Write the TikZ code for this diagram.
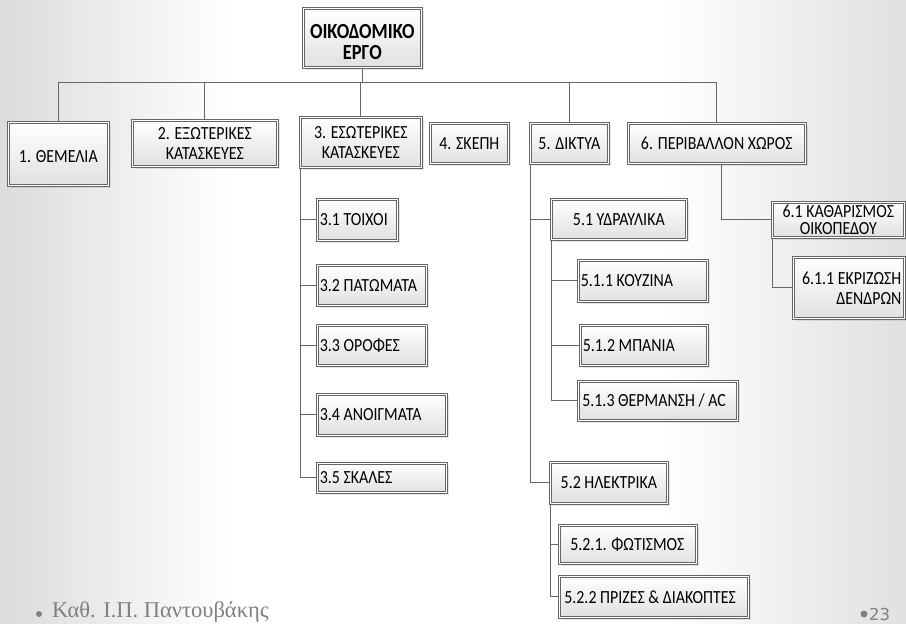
\documentclass[tikz,border=0pt]{standalone}
\usepackage{fontspec}
\setmainfont{Carlito}[FakeStretch=0.86]
\newfontfamily\footfont{Liberation Serif}
\newfontfamily\pagefont{DejaVu Sans}
\usetikzlibrary{calc,shadows}

\pgfdeclarelayer{back}
\pgfdeclarelayer{wires}
\pgfsetlayers{back,wires,main}

\begin{document}
\begin{tikzpicture}[x=1pt,y=-1pt,
  box/.style={draw=black!60, line width=0.7pt, double=white, double distance=1.2pt,
    top color=white, bottom color=black!12,
    drop shadow={shadow xshift=2.5pt, shadow yshift=-2.5pt, opacity=0.2},
    font=\fontsize{18.5}{20}\selectfont, inner sep=0pt, anchor=north west, align=center},
  lbox/.style={box, align=flush left, inner xsep=2.5pt},
  rbox/.style={box, align=flush right, inner xsep=3pt},
  wire/.style={draw=black!60, line width=0.8pt},
  ]
\useasboundingbox (0,0) rectangle (906,624);

% slide background
\begin{pgfonlayer}{back}
  \fill[white] (0,0) rectangle (906,624);
  \shade[left color=black!14, right color=white] (0,0) rectangle (230,624);
  \shade[left color=white, right color=black!12] (660,0) rectangle (906,624);
\end{pgfonlayer}

% root
\node[box, minimum width=118pt, minimum height=59pt,
      font=\fontsize{21.5}{21}\selectfont\bfseries] (root) at (303,8)
      {\rule{0pt}{22pt}ΟΙΚΟΔΟΜΙΚΟ\\ΕΡΓΟ};

% first level
\node[box, minimum width=100pt, minimum height=63pt] (b1) at (8,122) {\rule{0pt}{18pt}1. ΘΕΜΕΛΙΑ};
\node[box, minimum width=145pt, minimum height=46pt] (b2) at (132,120) {2. ΕΞΩΤΕΡΙΚΕΣ\\ΚΑΤΑΣΚΕΥΕΣ};
\node[box, minimum width=121pt, minimum height=50pt] (b3) at (300,117) {3. ΕΣΩΤΕΡΙΚΕΣ\\ΚΑΤΑΣΚΕΥΕΣ};
\node[box, minimum width=78pt, minimum height=40pt] (b4) at (430,123) {4. ΣΚΕΠΗ};
\node[box, minimum width=78pt, minimum height=40pt] (b5) at (530,123) {5. ΔΙΚΤΥΑ};
\node[box, minimum width=177pt, minimum height=40pt] (b6) at (628,123) {6. ΠΕΡΙΒΑΛΛΟΝ ΧΩΡΟΣ};

% interior works
\node[lbox, text width=75pt, minimum height=41pt] (c31) at (317,199) {3.1 ΤΟΙΧΟΙ};
\node[lbox, text width=104pt, minimum height=40pt] (c32) at (317,265) {3.2 ΠΑΤΩΜΑΤΑ};
\node[lbox, text width=104pt, minimum height=40pt] (c33) at (317,325) {3.3 ΟΡΟΦΕΣ};
\node[lbox, text width=124pt, minimum height=41pt] (c34) at (317,394) {3.4 ΑΝΟΙΓΜΑΤΑ};
\node[lbox, text width=124pt, minimum height=29pt] (c35) at (317,463) {3.5 ΣΚΑΛΕΣ};

% networks
\node[box, minimum width=135pt, minimum height=40pt] (c51) at (551,199) {5.1 ΥΔΡΑΥΛΙΚΑ};
\node[lbox, text width=124pt, minimum height=41pt] (c511) at (578,260) {5.1.1 ΚΟΥΖΙΝΑ};
\node[lbox, text width=122pt, minimum height=40pt] (c512) at (580,325) {5.1.2 ΜΠΑΝΙΑ};
\node[lbox, text width=151pt, minimum height=39pt, inner xsep=4pt] (c513) at (578,381) {\mbox{5.1.3 ΘΕΡΜΑΝΣΗ / AC}};
\node[box, minimum width=117pt, minimum height=41pt] (c52) at (550,462) {5.2 ΗΛΕΚΤΡΙΚΑ};
\node[lbox, text width=115pt, minimum height=38pt, inner xsep=11pt] (c521) at (559,525) {\mbox{5.2.1. ΦΩΤΙΣΜΟΣ}};
\node[lbox, text width=179pt, minimum height=41pt, inner xsep=5pt] (c522) at (559,576) {\mbox{5.2.2 ΠΡΙΖΕΣ \& ΔΙΑΚΟΠΤΕΣ}};

% surroundings
\node[box, minimum width=132pt, minimum height=35pt, font=\fontsize{18.5}{17}\selectfont] (c61) at (772,202) {6.1 ΚΑΘΑΡΙΣΜΟΣ\\ΟΙΚΟΠΕΔΟΥ};
\node[rbox, text width=105pt, minimum height=61pt] (c611) at (793,257) {6.1.1 ΕΚΡΙΖΩΣΗ\\ΔΕΝΔΡΩΝ};

% connectors
\begin{pgfonlayer}{wires}
  \coordinate (bus) at (0,82);
  \draw[wire] (root.south) -- (root.south |- bus);
  \draw[wire] (b1.north |- bus) -- (b6.north |- bus);
  \foreach \n in {b1,b2,b3,b5,b6}
    \draw[wire] (\n.north) -- (\n.north |- bus);

  \draw[wire] (b3.south west) |- (c35.west);
  \foreach \n in {c31,c32,c33,c34}
    \draw[wire] (b3.south west |- \n.west) -- (\n.west);

  \draw[wire] (b5.south west) |- (c52.west);
  \draw[wire] (b5.south west |- c51.west) -- (c51.west);

  \draw[wire] (c51.south west) |- (c513.west);
  \foreach \n in {c511,c512}
    \draw[wire] (c51.south west |- \n.west) -- (\n.west);

  \draw[wire] (c52.south west) |- (c522.west);
  \draw[wire] (c52.south west |- c521.west) -- (c521.west);

  \coordinate (b6out) at ($(b6.south)+(5,0)$);
  \draw[wire] (b6out) |- (c61.west);
  \draw[wire] (c61.south west) |- (c611.west);
\end{pgfonlayer}

% footer
\fill[black!50] (39,614) circle (3) coordinate (dot);
\node[anchor=base west, inner sep=0pt, text=black!50,
      font=\footfont\fontsize{22.5}{24}\selectfont] (author) at (52,617) {Καθ. Ι.Π. Παντουβάκης};
\fill[black!50] (864,614) circle (3.5) coordinate (pdot);
\node[anchor=base west, inner sep=0pt, text=black!50,
      font=\pagefont\fontsize{16.5}{18}\selectfont] (page) at (869,620) {23};
\end{tikzpicture}
\end{document}
